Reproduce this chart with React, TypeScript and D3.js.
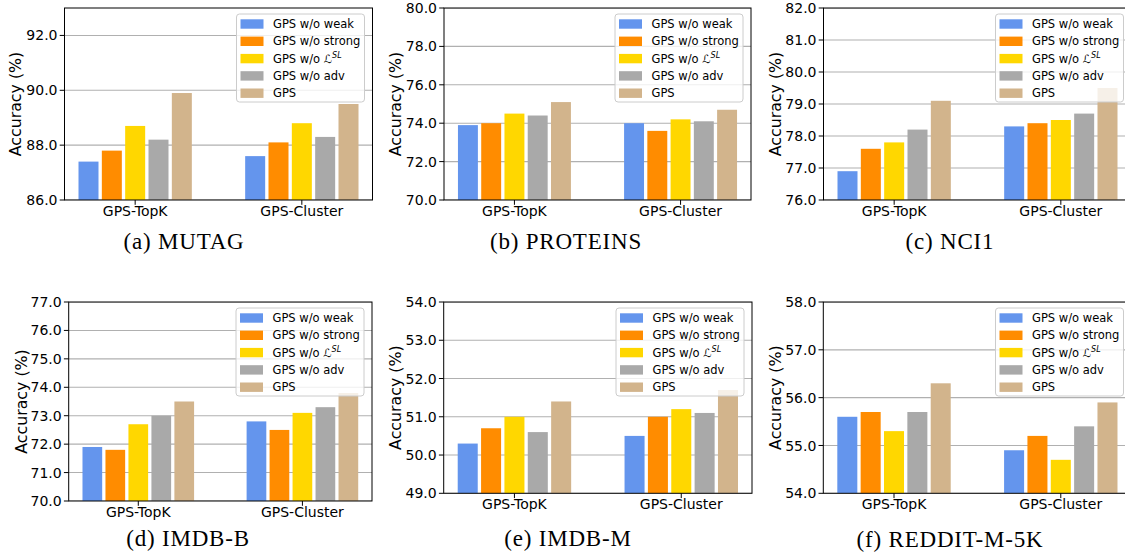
import React from 'react';
import * as d3 from 'd3';

// ---------- data ----------
const groups = ["GPS-TopK", "GPS-Cluster"];
const seriesNames = ["GPS w/o weak", "GPS w/o strong", "GPS w/o LSL", "GPS w/o adv", "GPS"];
const seriesColors = ["#6495ED", "#FF8C00", "#FFD700", "#A9A9A9", "#D2B48C"];

const mutagTopK = [87.4, 87.8, 88.7, 88.2, 89.9];
const mutagCluster = [87.6, 88.1, 88.8, 88.3, 89.5];
const proteinsTopK = [73.9, 74.0, 74.5, 74.4, 75.1];
const proteinsCluster = [74.0, 73.6, 74.2, 74.1, 74.7];
const nci1TopK = [76.9, 77.6, 77.8, 78.2, 79.1];
const nci1Cluster = [78.3, 78.4, 78.5, 78.7, 79.5];
const imdbbTopK = [71.9, 71.8, 72.7, 73.0, 73.5];
const imdbbCluster = [72.8, 72.5, 73.1, 73.3, 73.8];
const imdbmTopK = [50.3, 50.7, 51.0, 50.6, 51.4];
const imdbmCluster = [50.5, 51.0, 51.2, 51.1, 51.7];
const redditTopK = [55.6, 55.7, 55.3, 55.7, 56.3];
const redditCluster = [54.9, 55.2, 54.7, 55.4, 55.9];

const panelTitles = ["(a) MUTAG", "(b) PROTEINS", "(c) NCI1", "(d) IMDB-B", "(e) IMDB-M", "(f) REDDIT-M-5K"];
const panelValues = [
  [mutagTopK, mutagCluster],
  [proteinsTopK, proteinsCluster],
  [nci1TopK, nci1Cluster],
  [imdbbTopK, imdbbCluster],
  [imdbmTopK, imdbmCluster],
  [redditTopK, redditCluster],
];
const yDomains = [[86, 93], [70, 80], [76, 82], [70, 77], [49, 54], [54, 58]];
const yTicks = [
  [86, 88, 90, 92],
  [70, 72, 74, 76, 78, 80],
  [76, 77, 78, 79, 80, 81, 82],
  [70, 71, 72, 73, 74, 75, 76, 77],
  [49, 50, 51, 52, 53, 54],
  [54, 55, 56, 57, 58],
];
const yLabel = "Accuracy (%)";

// ---------- layout ----------
const layout = [
  { left: 64.5, right: 372.5, top: 8, bottom: 200, ylx: 15, tx: 184, ty: 249 },
  { left: 444, right: 751, top: 8, bottom: 200, ylx: 395, tx: 566, ty: 249 },
  { left: 823.5, right: 1131.5, top: 8, bottom: 200, ylx: 775, tx: 950, ty: 249 },
  { left: 68.7, right: 372, top: 302, bottom: 501, ylx: 21, tx: 188, ty: 546 },
  { left: 443.7, right: 752, top: 302, bottom: 493.3, ylx: 395, tx: 568, ty: 546 },
  { left: 823.3, right: 1131.5, top: 302, bottom: 493.3, ylx: 775, tx: 950, ty: 547 },
];

const SANS = "'DejaVu Sans', sans-serif";
const SERIF = "'Liberation Serif', 'DejaVu Serif', serif";
const BAR_STEP = 0.14;
const BAR_W = 0.12;
const TICK_FS = 14;

function Legend({ x, y }: { x: number; y: number }) {
  const w = 128;
  const h = 88;
  const rowH = 17.3;
  return (
    <g transform={`translate(${x},${y})`}>
      <rect x={0} y={0} width={w} height={h} rx={3} fill="white" fillOpacity={0.8} stroke="#cccccc" strokeWidth={1} />
      {seriesNames.map((name, i) => {
        const cy = 10 + i * rowH;
        return (
          <g key={name}>
            <rect x={4} y={cy - 4.7} width={23} height={9.4} fill={seriesColors[i]} />
            {i === 2 ? (
              <text x={36.5} y={cy} dy="0.35em" fontFamily={SANS} fontSize={11.5} fill="#000">
                GPS w/o <tspan fontStyle="italic">ℒ</tspan>
                <tspan fontStyle="italic" fontSize={8} dy="-4.5">SL</tspan>
              </text>
            ) : (
              <text x={36.5} y={cy} dy="0.35em" fontFamily={SANS} fontSize={11.5} fill="#000">
                {name}
              </text>
            )}
          </g>
        );
      })}
    </g>
  );
}

function Panel({ idx }: { idx: number }) {
  const L = layout[idx];
  const x = d3.scaleLinear().domain([-0.424, 1.424]).range([L.left, L.right]);
  const y = d3.scaleLinear().domain(yDomains[idx]).range([L.bottom, L.top]);
  const fmt = d3.format(".1f");
  const bw = x(BAR_W) - x(0);
  const vals = panelValues[idx];
  const clipId = `clip${idx}`;
  return (
    <g>
      <defs>
        <clipPath id={clipId}>
          <rect x={L.left} y={L.top} width={L.right - L.left} height={L.bottom - L.top} />
        </clipPath>
      </defs>
      <g clipPath={`url(#${clipId})`}>
        {yTicks[idx].map((t) => (
          <line key={t} x1={L.left} x2={L.right} y1={y(t)} y2={y(t)} stroke="#b0b0b0" strokeWidth={1.1} />
        ))}
        {groups.map((g, gi) =>
          vals[gi].map((v, si) => {
            const cx = x(gi + (si - 2) * BAR_STEP);
            return (
              <rect
                key={`${g}-${si}`}
                x={cx - bw / 2}
                y={y(v)}
                width={bw}
                height={y(yDomains[idx][0]) - y(v)}
                fill={seriesColors[si]}
              />
            );
          })
        )}
      </g>
      <rect x={L.left} y={L.top} width={L.right - L.left} height={L.bottom - L.top} fill="none" stroke="#000" strokeWidth={1} />
      {yTicks[idx].map((t) => (
        <g key={t}>
          <line x1={L.left - 4.8} x2={L.left} y1={y(t)} y2={y(t)} stroke="#000" strokeWidth={1} />
          <text x={L.left - 7} y={y(t)} dy="0.36em" textAnchor="end" fontFamily={SANS} fontSize={TICK_FS} fill="#000">
            {fmt(t)}
          </text>
        </g>
      ))}
      {groups.map((g, gi) => (
        <g key={g}>
          <line x1={x(gi)} x2={x(gi)} y1={L.bottom} y2={L.bottom + 4.8} stroke="#000" strokeWidth={1} />
          <text x={x(gi)} y={L.bottom + 15.5} textAnchor="middle" fontFamily={SANS} fontSize={TICK_FS} fill="#000">
            {g}
          </text>
        </g>
      ))}
      <text
        transform={`translate(${L.ylx},${(L.top + L.bottom) / 2}) rotate(-90)`}
        textAnchor="middle"
        dy="0.35em"
        fontFamily={SANS}
        fontSize={15.8}
        fill="#000"
      >
        {yLabel}
      </text>
      <Legend x={L.right - 136} y={L.top + 6} />
      <text x={L.tx} y={L.ty} textAnchor="middle" fontFamily={SERIF} fontSize={23} letterSpacing={0.8} fill="#000">
        {panelTitles[idx]}
      </text>
    </g>
  );
}

export default function App() {
  return (
    <svg
      width={1125}
      height={556}
      viewBox="0 0 1125 556"
      style={{ position: 'absolute', left: 0, top: 0, background: '#fff' }}
    >
      <rect x={0} y={0} width={1125} height={556} fill="#fff" />
      {panelTitles.map((_, i) => (
        <Panel key={i} idx={i} />
      ))}
    </svg>
  );
}
